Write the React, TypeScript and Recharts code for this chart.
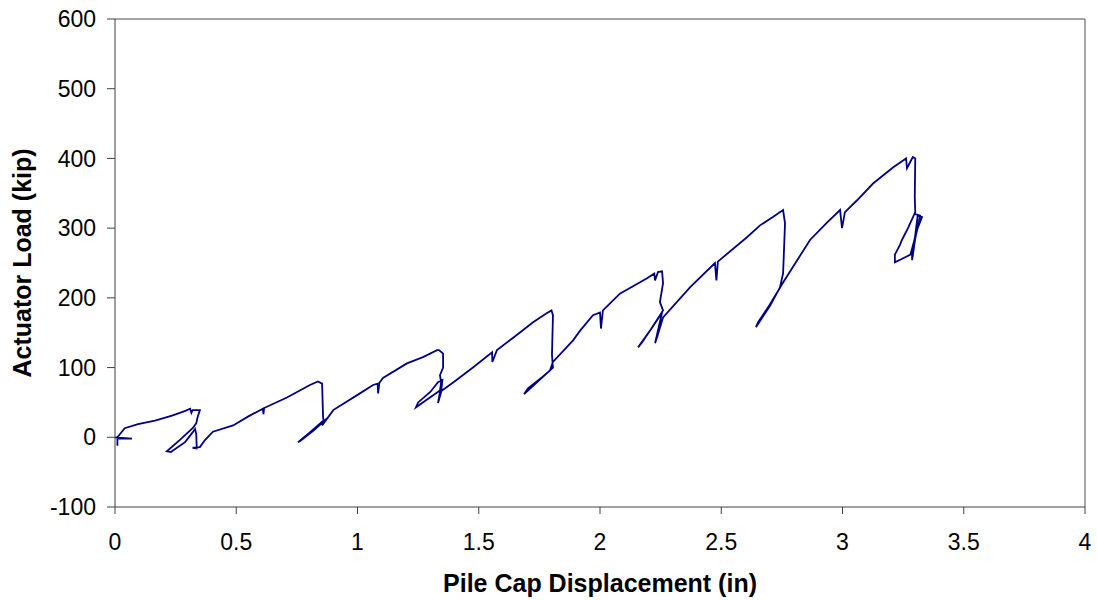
import { LineChart, Line, XAxis, YAxis, ReferenceLine } from 'recharts';

// Pile cap displacement (in), in recorded order
const displacement = [
  0.0, 0.07, 0.01, 0.01, 0.01, 0.04, 0.095, 0.165, 0.235, 0.29, 0.31, 0.315, 0.32, 0.35, 0.34, 0.335, 0.32, 0.27,
  0.214, 0.23, 0.289, 0.32, 0.33, 0.335, 0.337, 0.32, 0.35,
  0.371, 0.404, 0.487, 0.55, 0.61, 0.612, 0.615, 0.709, 0.804, 0.837, 0.854, 0.858, 0.86, 0.8, 0.755, 0.765, 0.82,
  0.874, 0.854, 0.9, 1.01, 1.064, 1.083, 1.085, 1.09, 1.105, 1.204, 1.27, 1.328, 1.336, 1.353, 1.353, 1.34, 1.345,
  1.34, 1.29, 1.241, 1.25, 1.3, 1.332, 1.35, 1.345, 1.332, 1.34, 1.4, 1.476, 1.555, 1.556, 1.575, 1.65, 1.724,
  1.78, 1.8, 1.806, 1.802, 1.806, 1.75, 1.687, 1.703, 1.76, 1.794, 1.806, 1.889, 1.918, 1.971, 2.0, 2.004, 2.012,
  2.082, 2.194, 2.224, 2.227, 2.239, 2.256, 2.26, 2.247, 2.26, 2.21, 2.157, 2.173, 2.22, 2.256, 2.227, 2.235, 2.26,
  2.371, 2.474, 2.48, 2.486, 2.606, 2.66, 2.713, 2.755, 2.763, 2.755, 2.742, 2.7, 2.643, 2.652, 2.7, 2.755, 2.866,
  2.936, 2.99, 2.998, 3.01, 3.06, 3.126, 3.208, 3.25, 3.262, 3.266, 3.275, 3.29, 3.3, 3.298, 3.3, 3.27, 3.245,
  3.237, 3.216, 3.216, 3.24, 3.28, 3.31, 3.328, 3.31, 3.3, 3.287, 3.287, 3.3, 3.32, 3.3,
];

// Actuator load (kip), same order as displacement
const load = [
  0, -2, -2, -12, 0, 13, 19, 24, 31, 38, 41, 35, 39, 39, 28, 20, 13, -3,
  -20, -21, -7, 7, 12, 5, -16, -15, -14,
  -4, 8, 17, 30, 41, 33, 42, 57, 75, 80, 77, 29, 24, 6, -7, -5, 10,
  27, 17, 39, 63, 75, 77, 63, 78, 85, 106, 115, 125, 125, 120, 100, 89, 79,
  67, 55, 43, 50, 65, 79, 82, 65, 49, 65, 80, 100, 122, 108, 125, 145, 165,
  178, 182, 175, 118, 100, 82, 62, 70, 86, 96, 108, 139, 153, 175, 179, 156, 182,
  206, 228, 235, 225, 237, 238, 221, 194, 182, 155, 129, 136, 160, 179, 135, 143, 172,
  215, 250, 225, 252, 287, 304, 316, 326, 307, 235, 215, 188, 158, 165, 190, 222, 283,
  308, 326, 300, 323, 340, 364, 387, 397, 400, 386, 392, 402, 400, 345, 323, 300, 283,
  276, 262, 251, 255, 262, 300, 316, 318, 290, 262, 254, 285, 318, 320,
];

const xTicks = [0, 0.5, 1, 1.5, 2, 2.5, 3, 3.5, 4];
const yTicks = [-100, 0, 100, 200, 300, 400, 500, 600];

const data = displacement.map((x, i) => ({ x, y: load[i] }));

const font = 'Arial, "Liberation Sans", sans-serif';
const tickStyle = { fill: '#000', fontSize: 23, fontFamily: font };

export default function App() {
  return (
    <div style={{ position: 'absolute', left: 0, top: 0, background: '#fff' }}>
      <LineChart width={1097} height={600} data={data} margin={{ top: 19, right: 12, left: 0, bottom: 0 }}>
        <XAxis
          dataKey="x"
          type="number"
          domain={[0, 4]}
          ticks={xTicks}
          height={93}
          stroke="#404040"
          tickSize={7}
          tickMargin={20}
          tick={tickStyle}
          label={{
            value: 'Pile Cap Displacement (in)',
            position: 'insideBottom',
            offset: 8,
            style: { fill: '#000', fontSize: 25, fontWeight: 'bold', fontFamily: font },
          }}
        />
        <YAxis
          type="number"
          domain={[-100, 600]}
          ticks={yTicks}
          width={115}
          stroke="#404040"
          tickSize={8}
          tickMargin={11}
          tick={tickStyle}
          label={{
            value: 'Actuator Load (kip)',
            angle: -90,
            position: 'insideLeft',
            offset: 22,
            style: { textAnchor: 'middle', fill: '#000', fontSize: 25, fontWeight: 'bold', fontFamily: font },
          }}
        />
        <ReferenceLine y={600} stroke="#888" strokeWidth={1.5} />
        <ReferenceLine x={4} stroke="#888" strokeWidth={1.5} />
        <Line
          dataKey="y"
          type="linear"
          stroke="#000080"
          strokeWidth={1.8}
          dot={false}
          isAnimationActive={false}
        />
      </LineChart>
    </div>
  );
}
